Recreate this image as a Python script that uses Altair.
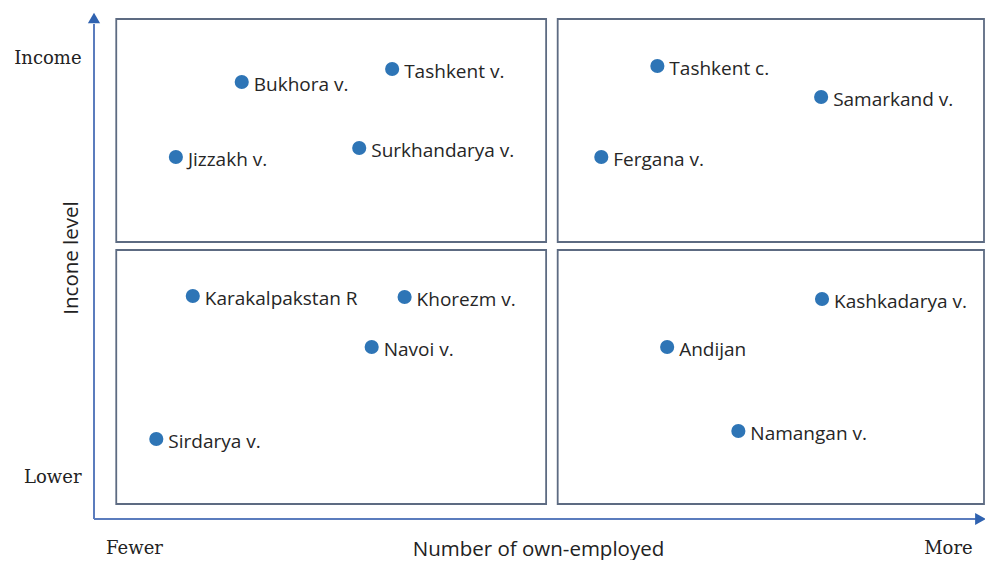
import altair as alt
import pandas as pd

# ---- data ----
regions = ["Bukhora v.", "Tashkent v.", "Jizzakh v.", "Surkhandarya v.",
           "Tashkent c.", "Samarkand v.", "Fergana v.",
           "Karakalpakstan R", "Khorezm v.", "Navoi v.", "Sirdarya v.",
           "Kashkadarya v.", "Andijan", "Namangan v."]
own_employed = [16.6, 33.5, 9.2, 29.8, 63.3, 81.7, 57.0,
                11.1, 34.9, 31.2, 7.0, 81.8, 64.4, 72.4]
income_level = [87.4, 90.0, 72.4, 74.2, 90.6, 84.4, 72.4,
                44.6, 44.4, 34.4, 16.0, 44.0, 34.4, 17.6]

# quadrant boxes (in the same units as the data)
quad_x0 = [2.5, 52.1, 2.5, 52.1]
quad_x1 = [50.8, 100.0, 50.8, 100.0]
quad_y0 = [55.4, 55.4, 3.0, 3.0]
quad_y1 = [100.0, 100.0, 53.8, 53.8]

# axis arrows
arrow_x0 = [0, 0]
arrow_y0 = [0, 0]
arrow_x1 = [99.4, 0]
arrow_y1 = [0, 99.0]
arrow_head_x = [99.6, 0]
arrow_head_y = [0, 100.2]
arrow_head_shape = ["triangle-right", "triangle-up"]

# tick labels
x_tick_labels = ["Fewer", "More"]
x_tick_values = [4.55, 96.0]
y_tick_labels = ["Income", "Lower"]
y_tick_values = [91.0, 7.2]

# axis titles
axis_titles = ["Number of own-employed", "Incone level"]
axis_title_x = [49.94, -1.8]
axis_title_y = [-7.3, 52.2]
axis_title_angle = [0, 270]

# ---- tables ----
pts = pd.DataFrame({"region": regions, "x": own_employed, "y": income_level})
quads = pd.DataFrame({"x0": quad_x0, "x1": quad_x1, "y0": quad_y0, "y1": quad_y1})
arrows = pd.DataFrame({"x0": arrow_x0, "y0": arrow_y0, "x1": arrow_x1, "y1": arrow_y1})
heads = pd.DataFrame({"x": arrow_head_x, "y": arrow_head_y, "shape": arrow_head_shape})
xticks = pd.DataFrame({"label": x_tick_labels, "x": x_tick_values, "y": [-7.0] * 2})
yticks = pd.DataFrame({"label": y_tick_labels, "y": y_tick_values, "x": [-1.4] * 2})
titles = pd.DataFrame({"label": axis_titles, "x": axis_title_x, "y": axis_title_y,
                       "angle": axis_title_angle})

xs = alt.Scale(domain=[0, 100], range=[86, 976], nice=False, zero=False)
ys = alt.Scale(domain=[0, 100], range=[511, 11], nice=False, zero=False)

boxes = alt.Chart(quads).mark_rect(
    fillOpacity=0, stroke="#5d6b82", strokeWidth=1.8
).encode(
    x=alt.X("x0:Q", scale=xs, axis=None),
    x2="x1:Q",
    y=alt.Y("y0:Q", scale=ys, axis=None),
    y2="y1:Q",
)

axis_lines = alt.Chart(arrows).mark_rule(color="#5b7cbd", strokeWidth=2).encode(
    x=alt.X("x0:Q", scale=xs, axis=None),
    x2="x1:Q",
    y=alt.Y("y0:Q", scale=ys, axis=None),
    y2="y1:Q",
)

arrow_heads = alt.Chart(heads).mark_point(
    filled=True, color="#2f62b0", size=150, opacity=1
).encode(
    x=alt.X("x:Q", scale=xs, axis=None),
    y=alt.Y("y:Q", scale=ys, axis=None),
    shape=alt.Shape("shape:N", scale=None),
)

points = alt.Chart(pts).mark_circle(size=200, color="#2e75b6", opacity=1).encode(
    x=alt.X("x:Q", scale=xs, axis=None),
    y=alt.Y("y:Q", scale=ys, axis=None),
)

labels = alt.Chart(pts).mark_text(
    align="left", baseline="alphabetic", dx=12, dy=9,
    font="Open Sans", fontSize=19, color="#262626"
).encode(
    x=alt.X("x:Q", scale=xs, axis=None),
    y=alt.Y("y:Q", scale=ys, axis=None),
    text="region:N",
)

xtick_text = alt.Chart(xticks).mark_text(
    align="center", baseline="alphabetic",
    font="DejaVu Serif", fontSize=18, color="#222222"
).encode(
    x=alt.X("x:Q", scale=xs, axis=None),
    y=alt.Y("y:Q", scale=ys, axis=None),
    text="label:N",
)

ytick_text = alt.Chart(yticks).mark_text(
    align="right", baseline="alphabetic",
    font="DejaVu Serif", fontSize=18, color="#222222"
).encode(
    x=alt.X("x:Q", scale=xs, axis=None),
    y=alt.Y("y:Q", scale=ys, axis=None),
    text="label:N",
)

title_text = alt.Chart(titles).mark_text(
    align="center", baseline="alphabetic",
    font="Open Sans", fontSize=20.5, color="#222222"
).encode(
    x=alt.X("x:Q", scale=xs, axis=None),
    y=alt.Y("y:Q", scale=ys, axis=None),
    angle=alt.Angle("angle:Q", scale=None),
    text="label:N",
)

chart = alt.layer(
    boxes, axis_lines, arrow_heads, points, labels, xtick_text, ytick_text,
    title_text
).properties(
    width=977, height=552, padding=0,
    autosize=alt.AutoSizeParams(type="none"),
    background="white",
).configure_view(stroke=None)

chart.save("out.html", embed_options={"renderer": "svg", "actions": False})
